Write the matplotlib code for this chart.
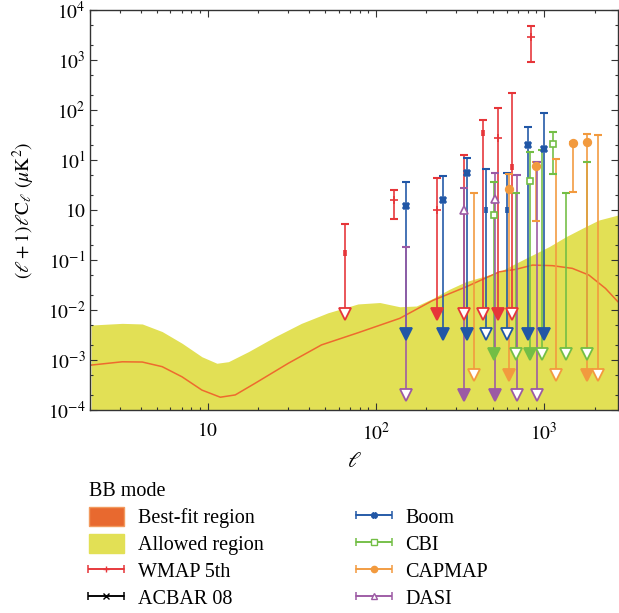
import numpy as np
import matplotlib
matplotlib.use('Agg')
import matplotlib.pyplot as plt
from matplotlib.patches import Patch
from matplotlib.lines import Line2D
from matplotlib.collections import LineCollection
from matplotlib.container import ErrorbarContainer
from matplotlib.legend_handler import HandlerErrorbar
from matplotlib.ticker import LogLocator, FixedLocator, FixedFormatter, NullFormatter

plt.rcParams['font.family'] = ['Liberation Serif', 'DejaVu Serif']
plt.rcParams['mathtext.fontset'] = 'stix'

nan = np.nan

# allowed region (upper edge)
band_l = [2.03, 3.11, 4.09, 5.37, 7.05, 9.25, 11.35, 13.3, 17.5, 25.2, 36.1, 52.0,
          78.3, 105.6, 138.7, 174, 218, 274, 344, 542, 680, 853, 1071, 1343,
          1685, 2115, 2741]
band_top = [5.0e-3, 5.4e-3, 5.25e-3, 3.7e-3, 2.16e-3, 1.16e-3, 8.6e-4, 9.25e-4,
            1.47e-3, 2.92e-3, 5.4e-3, 8.8e-3, 1.32e-2, 1.41e-2, 1.16e-2, 1.2e-2,
            1.7e-2, 2.6e-2, 3.7e-2, 5.8e-2, 8.6e-2, 0.126, 0.185, 0.29, 0.43,
            0.63, 0.79]

# best-fit curve
fit_l = [2.03, 3.11, 4.09, 5.37, 7.05, 9.25, 11.9, 14.6, 19.1, 30.2, 47.5, 78.3,
         138.7, 218, 344, 542, 680, 853, 1120, 1471, 1845, 2317, 2741]
fit_v = [7.9e-4, 9.2e-4, 9.1e-4, 7.35e-4, 4.6e-4, 2.5e-4, 1.8e-4, 2.0e-4, 3.4e-4,
         8.6e-4, 2.0e-3, 3.5e-3, 6.8e-3, 1.55e-2, 2.9e-2, 5.8e-2, 6.5e-2, 7.9e-2,
         7.7e-2, 6.8e-2, 5.0e-2, 2.7e-2, 1.47e-2]

# experiments: multipole, top of bar, central value, bottom, bottom kind, centre kind
wmap_l = [65.6, 129, 232, 333, 436, 535, 644, 834]
wmap_top = [0.52, 2.5, 4.4, 12.6, 63, 111, 222, 4860]
wmap_mid = [0.14, 1.6, 1.0, nan, 34, 28, 7.4, 2840]
wmap_low = [0.0083, 0.67, 0.0083, 0.0083, 0.0083, 0.0083, 0.0083, 926]
wmap_end = ['open', 'cap', 'filled', 'open', 'open', 'filled', 'open', 'cap']
wmap_mark = ['bar', 'full', 'full', 'none', 'bar', 'full', 'bar', 'full']

boom_l = [151, 251, 350, 452, 604, 804, 1000]
boom_top = [3.6, 4.8, 11.1, 6.6, 5.4, 45, 86]
boom_mid = [1.2, 1.58, 5.4, 1.0, 1.0, 20, 16.3]
boom_low = [0.0033] * 7
boom_end = ['filled', 'filled', 'filled', 'open', 'open', 'filled', 'filled']
boom_mark = ['full', 'full', 'full', 'bar', 'bar', 'full', 'full']

cbi_l = [501, 680, 826, 977, 1130, 1355, 1790]
cbi_top = [3.6, 2.15, 14.7, 15.5, 37, 2.15, 9.0]
cbi_mid = [0.79, nan, 3.8, nan, 21, nan, nan]
cbi_low = [0.0013, 0.0013, 0.0013, 0.0013, 5.2, 0.0013, 0.0013]
cbi_end = ['filled', 'open', 'filled', 'open', 'cap', 'open', 'open']
cbi_mark = ['full', 'none', 'full', 'none', 'full', 'none', 'none']

capmap_l = [382, 621, 893, 1183, 1486, 1790, 2094]
capmap_top = [2.15, 5.2, 9.0, 10.3, 23, 33, 31.6]
capmap_mid = [nan, 2.6, 7.7, nan, 21.5, 22.6, nan]
capmap_low = [5e-4, 5e-4, 0.6, 5e-4, 2.3, 5e-4, 5e-4]
capmap_end = ['open', 'filled', 'cap', 'open', 'cap', 'filled', 'open']
capmap_mark = ['none', 'full', 'full', 'none', 'full', 'full', 'none']

dasi_l = [151, 333, 511, 686, 912]
dasi_top = [0.18, 2.7, 5.6, 4.9, 9.0]
dasi_mid = [nan, 1.0, 1.63, nan, nan]
dasi_low = [2e-4] * 5
dasi_end = ['open', 'filled', 'filled', 'open', 'open']
dasi_mark = ['none', 'full', 'full', 'none', 'none']

ytick_vals = [1e-4, 1e-3, 1e-2, 1e-1, 1, 10, 100, 1e3, 1e4]
ytick_labels = ['$10^{-4}$', '$10^{-3}$', '$10^{-2}$', '$10^{-1}$', '$10$',
                '$10^{1}$', '$10^{2}$', '$10^{3}$', '$10^{4}$']
xtick_vals = [10, 100, 1000]
xtick_labels = ['$10$', '$10^{2}$', '$10^{3}$']

red = '#E63539'
blue = '#2157A6'
green = '#73BE45'
orange = '#F29A3E'
purple = '#9C5AA4'
yellow = '#E2E055'
fitcol = '#EE6A2E'

fig = plt.figure(figsize=(6.19, 6.13), dpi=100)
ax = fig.add_axes([0.1454, 0.3312, 0.853, 0.6525])

ax.fill_between(band_l, 1e-5, band_top, color=yellow, lw=0, zorder=1)
ax.plot(fit_l, fit_v, color=fitcol, lw=1.1, zorder=2)


def draw(ls, tops, mids, lows, ends, marks, color, marker, mfc, ms):
    for l, t, m, lo, e, k in zip(ls, tops, mids, lows, ends, marks):
        ax.vlines(l, lo, t, color=color, lw=1.3, alpha=0.9, zorder=3)
        ax.plot(l, t, marker='_', color=color, ms=5.5, mew=1.5, zorder=4)
        if e == 'cap':
            ax.plot(l, lo, marker='_', color=color, ms=5.5, mew=1.5, zorder=4)
        else:
            face = color if e == 'filled' else 'white'
            ax.plot(l, lo, marker='v', ms=9, mfc=face, mec=color, mew=1.3, zorder=5)
        if k == 'full':
            ax.plot(l, m, marker=marker, ms=ms, color=color, mfc=mfc, mec=color,
                    mew=1.2, zorder=6)
        elif k == 'bar':
            ax.plot(l, m, marker='|', ms=5, color=color, mew=2.6, zorder=6)


draw(wmap_l, wmap_top, wmap_mid, wmap_low, wmap_end, wmap_mark, red, '+', red, 6)
draw(boom_l, boom_top, boom_mid, boom_low, boom_end, boom_mark, blue, 'X', blue, 4.5)
draw(cbi_l, cbi_top, cbi_mid, cbi_low, cbi_end, cbi_mark, green, 's', 'white', 5)
draw(capmap_l, capmap_top, capmap_mid, capmap_low, capmap_end, capmap_mark,
     orange, 'o', orange, 5.5)
draw(dasi_l, dasi_top, dasi_mid, dasi_low, dasi_end, dasi_mark, purple, '^', 'white', 5.5)

ax.set_xscale('log')
ax.set_yscale('log')
ax.set_xlim(2.0, 2750)
ax.set_ylim(1e-4, 1e4)

ax.xaxis.set_major_locator(FixedLocator(xtick_vals))
ax.xaxis.set_major_formatter(FixedFormatter(xtick_labels))
ax.xaxis.set_minor_locator(LogLocator(subs=np.arange(2, 10)))
ax.xaxis.set_minor_formatter(NullFormatter())
ax.yaxis.set_major_locator(FixedLocator(ytick_vals))
ax.yaxis.set_major_formatter(FixedFormatter(ytick_labels))
ax.yaxis.set_minor_locator(LogLocator(subs=(2, 5)))
ax.yaxis.set_minor_formatter(NullFormatter())

ax.tick_params(which='both', direction='in', top=True, right=True, color='#333333',
               width=0.8, labelsize=14)
ax.tick_params(which='major', length=5)
ax.tick_params(which='minor', length=2.5)
ax.tick_params(axis='x', pad=9)
ax.tick_params(axis='y', pad=3)
for s in ax.spines.values():
    s.set_color('#333333')
    s.set_linewidth(1.0)

ax.set_xlabel(r'$\ell$', fontsize=16, labelpad=6)
ax.set_ylabel(r'$(\ell+1)\ell \mathrm{C}_\ell\ (\mu\mathrm{K}^2)$', fontsize=14, labelpad=8)


def eb_handle(color, marker, mfc, ms):
    line = Line2D([], [], color=color, lw=1.1, marker=marker, ms=ms, mfc=mfc,
                  mec=color, mew=1.0)
    cap = Line2D([], [], color=color, marker='|', ms=6, mew=1.1, ls='none')
    bar = LineCollection([], colors=color, linewidths=1.1)
    return ErrorbarContainer((line, (cap,), (bar,)), has_xerr=True, has_yerr=False)


handles = [
    Patch(facecolor='#E8692F', edgecolor='#F29A5E', lw=1),
    Patch(facecolor=yellow, edgecolor=yellow),
    eb_handle(red, '+', red, 5),
    eb_handle('black', 'x', 'black', 4),
    eb_handle(blue, 'X', blue, 4),
    eb_handle(green, 's', 'white', 4.5),
    eb_handle(orange, 'o', orange, 4.5),
    eb_handle(purple, '^', 'white', 4.5),
]
labels = ['Best-fit region', 'Allowed region', 'WMAP 5th', 'ACBAR 08',
          'Boom', 'CBI', 'CAPMAP', 'DASI']

fig.legend(handles, labels, ncol=2, loc='upper left', bbox_to_anchor=(0.143, 0.213),
           bbox_transform=fig.transFigure, frameon=False, fontsize=14.5,
           title='BB mode', title_fontsize=14.5, alignment='left',
           handlelength=1.75, handleheight=1.05, handletextpad=0.7,
           labelspacing=0.28, columnspacing=4.6, borderpad=0, borderaxespad=0,
           handler_map={ErrorbarContainer: HandlerErrorbar(xerr_size=0.88)})

fig.savefig('out.png', dpi=100)
